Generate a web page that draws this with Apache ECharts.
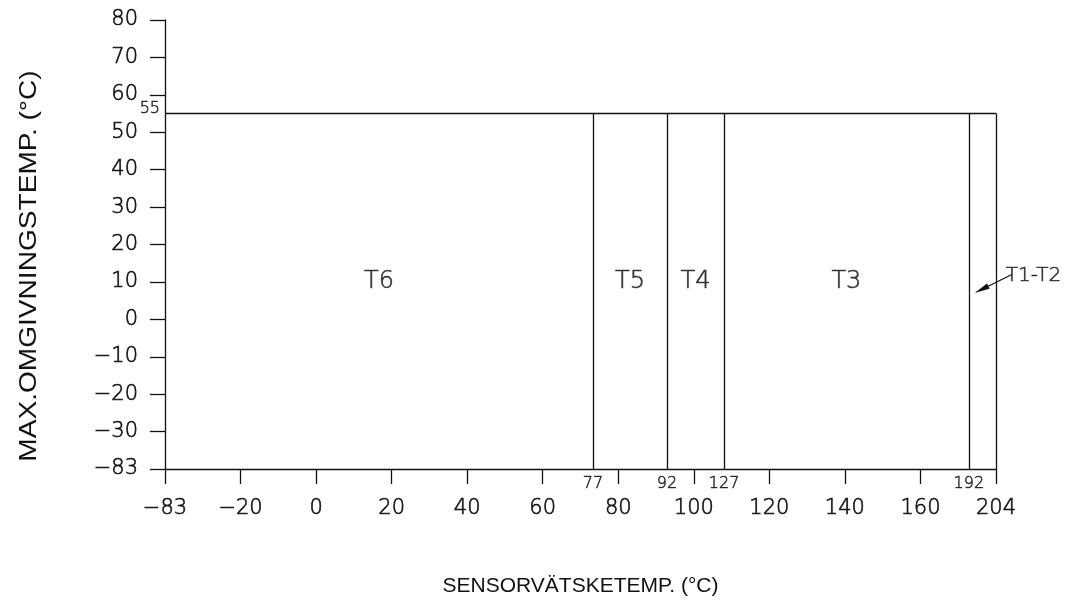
<!DOCTYPE html>
<html>
<head>
<meta charset="utf-8">
<script src="https://cdn.jsdelivr.net/npm/echarts@6/dist/echarts.min.js"></script>
<style>
  html, body { margin: 0; padding: 0; background: #fff; }
  #chart { width: 1066px; height: 602px; }
</style>
</head>
<body>
<div id="chart"></div>
<script>
// Schematic temperature-class diagram: ambient limit vs. sensor liquid temperature.
// Both axes are drawn with evenly spaced ticks (index units), labelled with the values below.
const xTickValues = [-83, -20, 0, 20, 40, 60, 80, 100, 120, 140, 160, 204];
const yTickValues = [-83, -30, -20, -10, 0, 10, 20, 30, 40, 50, 60, 70, 80];

// Upper limit of the ambient temperature for all classes (°C)
const zoneTop = 55;

// Class boundaries (sensor liquid temperature, °C) and where they sit on the schematic x axis
const boundaryValues = [77, 92, 127, 192];
const boundaryAxisPos = [5.665, 6.645, 7.40, 10.64];

// Temperature classes, left to right
const zoneNames = ['T6', 'T5', 'T4', 'T3', 'T1-T2'];

const FONT = '"DejaVu Sans", sans-serif';
const INK = '#111111';

// Thin technical lettering: light face, slightly thickened with a hairline outline
const thinText = { color: INK, fontFamily: FONT, fontWeight: 200, textBorderColor: INK, textBorderWidth: 0.6 };

const fmt = v => (v < 0 ? '\u2212' + Math.abs(v) : String(v));

// Map an ambient temperature onto the piecewise y scale (tick index units)
function yPos(v) {
  for (let i = 0; i < yTickValues.length - 1; i++) {
    const a = yTickValues[i], b = yTickValues[i + 1];
    if (v <= b) return i + (v - a) / (b - a);
  }
  return yTickValues.length - 1;
}

const xMax = xTickValues.length - 1;
const yMax = yTickValues.length - 1;
const topY = yPos(zoneTop);

// Zone edges along the x axis, used to centre the class names
const edges = [0].concat(boundaryAxisPos).concat([xMax]);
const labelY = yPos(10);

const lineStyle = { color: INK, width: 1.3, type: 'solid' };

const boundarySeries = {
  type: 'line',
  data: [],
  clip: false,
  silent: true,
  markLine: {
    silent: true,
    symbol: ['none', 'none'],
    label: { show: false },
    lineStyle: lineStyle,
    data: boundaryAxisPos.map(p => [{ coord: [p, 0] }, { coord: [p, topY] }])
      .concat([
        [{ coord: [0, topY] }, { coord: [xMax, topY] }],
        [{ coord: [xMax, 0] }, { coord: [xMax, topY] }]
      ])
  }
};

// Leader arrow pointing into the narrow T1-T2 zone: [tipX, tipY, tailX, tailY]
const arrowTip = [(boundaryAxisPos[3] + xMax) / 2 - 0.09, labelY - 0.28];
const arrowTail = [xMax + 0.21, labelY + 0.2];

const arrowSeries = {
  type: 'custom',
  silent: true,
  clip: false,
  data: [[arrowTip[0], arrowTip[1], arrowTail[0], arrowTail[1]]],
  encode: { x: [0, 2], y: [1, 3] },
  renderItem: function (params, api) {
    const tip = api.coord([api.value(0), api.value(1)]);
    const tail = api.coord([api.value(2), api.value(3)]);
    const dx = tip[0] - tail[0], dy = tip[1] - tail[1];
    const len = Math.sqrt(dx * dx + dy * dy);
    const ux = dx / len, uy = dy / len;
    const headLen = 14, headHalf = 2.6;
    const bx = tip[0] - ux * headLen, by = tip[1] - uy * headLen;
    return {
      type: 'group',
      children: [
        {
          type: 'line',
          shape: { x1: tail[0], y1: tail[1], x2: bx, y2: by },
          style: { stroke: INK, lineWidth: 1.2 }
        },
        {
          type: 'polygon',
          shape: {
            points: [
              tip,
              [bx - uy * headHalf, by + ux * headHalf],
              [bx + uy * headHalf, by - ux * headHalf]
            ]
          },
          style: { fill: INK, stroke: INK, lineWidth: 0.5 }
        }
      ]
    };
  }
};

const zoneLabelSeries = {
  type: 'scatter',
  symbolSize: 0,
  silent: true,
  clip: false,
  data: zoneNames.slice(0, 4).map((n, i) => ({
    value: [(edges[i] + edges[i + 1]) / 2, labelY],
    label: { formatter: n }
  })),
  label: Object.assign({ show: true, position: 'inside', offset: [0, 0], fontSize: 24 }, thinText)
};

const lastZoneLabel = {
  type: 'scatter',
  symbolSize: 0,
  silent: true,
  clip: false,
  data: [{ value: arrowTail, label: { formatter: zoneNames[4] } }],
  label: Object.assign({ show: true, position: 'right', distance: 0, offset: [-6, 1], fontSize: 20 }, thinText)
};

const boundaryLabelSeries = {
  type: 'scatter',
  symbolSize: 0,
  silent: true,
  clip: false,
  data: boundaryValues.map((v, i) => ({
    value: [boundaryAxisPos[i], 0],
    label: { formatter: String(v) }
  })).concat([{
    value: [0, topY],
    label: { formatter: String(zoneTop), position: 'left', distance: 5, offset: [0, -5] }
  }]),
  label: Object.assign({ show: true, position: 'bottom', distance: 7, fontSize: 16 }, thinText)
};

const chart = echarts.init(document.getElementById('chart'), null, { renderer: 'canvas' });
chart.setOption({
  animation: false,
  backgroundColor: '#ffffff',
  grid: { left: 165, right: 70, top: 20, bottom: 127, containLabel: false },
  xAxis: {
    type: 'value',
    min: 0, max: xMax, interval: 1,
    name: 'SENSORV\u00c4TSKETEMP. (\u00b0C)',
    nameLocation: 'middle',
    nameGap: 107,
    nameTextStyle: { color: INK, fontFamily: '"Liberation Sans", Arial, sans-serif', fontSize: 21 },
    axisLine: { show: true, onZero: false, lineStyle: { color: INK, width: 1.3 } },
    axisTick: { show: true, length: 15, lineStyle: { color: INK, width: 1.3 } },
    splitLine: { show: false },
    axisLabel: Object.assign({
      margin: 29, fontSize: 21,
      formatter: v => fmt(xTickValues[v])
    }, thinText)
  },
  yAxis: {
    type: 'value',
    min: 0, max: yMax, interval: 1,
    axisLine: { show: true, onZero: false, lineStyle: { color: INK, width: 1.3 } },
    axisTick: { show: true, length: 15, lineStyle: { color: INK, width: 1.3 } },
    splitLine: { show: false },
    axisLabel: Object.assign({
      margin: 27, fontSize: 21,
      formatter: v => fmt(yTickValues[v])
    }, thinText)
  },
  graphic: [{
    type: 'text',
    x: 29, y: 266,
    rotation: Math.PI / 2,
    scaleX: 1.17,
    style: {
      text: 'MAX.OMGIVNINGSTEMP. (\u00b0C)',
      fill: INK,
      font: '24px "Liberation Sans", Arial, sans-serif',
      textAlign: 'center',
      textVerticalAlign: 'middle'
    }
  }],
  series: [boundarySeries, arrowSeries, zoneLabelSeries, lastZoneLabel, boundaryLabelSeries]
});
</script>
</body>
</html>
